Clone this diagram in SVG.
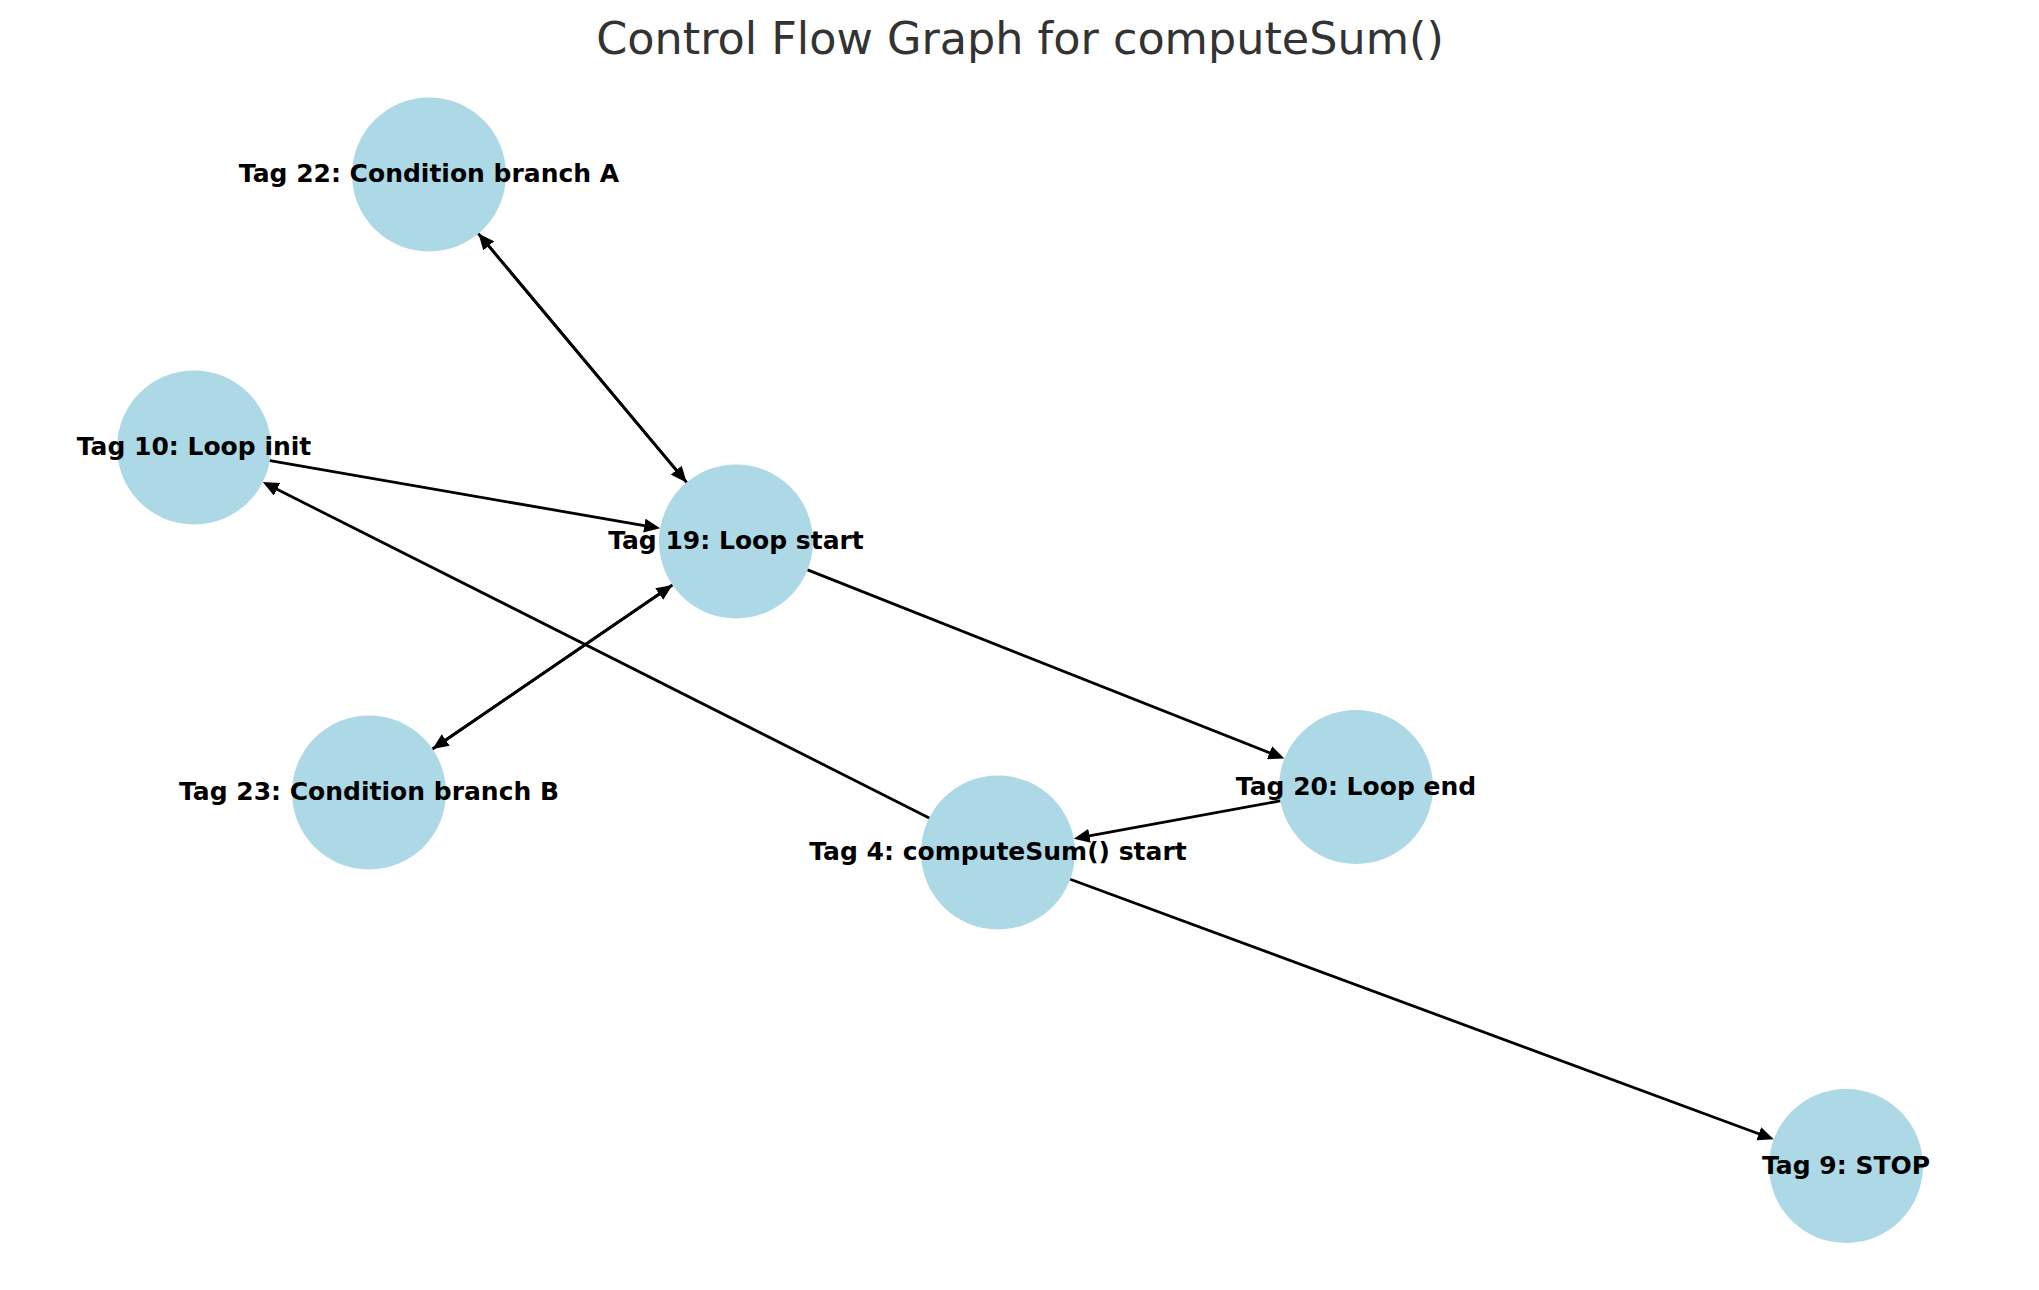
<svg xmlns="http://www.w3.org/2000/svg" width="2039" height="1290" viewBox="0 0 2039 1290">
<style>
.node circle{fill:#ADD8E6;}
.node text{font-family:"DejaVu Sans",sans-serif;font-weight:bold;font-size:25px;fill:#000;text-anchor:middle;}
.title{font-family:"DejaVu Sans",sans-serif;font-size:44.5px;fill:#333;text-anchor:middle;}
#edges line{stroke:#000;stroke-width:2.8;fill:none;marker-end:url(#arr);}
</style>
<defs>
<marker id="arr" viewBox="0 0 16 14" markerWidth="16" markerHeight="14" refX="10" refY="7" orient="auto" markerUnits="userSpaceOnUse">
<path d="M0,0 L16,7 L0,14 z" fill="#000"/>
</marker>
</defs>
<rect width="2039" height="1290" fill="#fff"/>
<text class="title" x="1020" y="54">Control Flow Graph for computeSum()</text>
<g id="nodes">
<g id="n22" class="node"><circle cx="429" cy="174.5" r="77"/></g>
<g id="n10" class="node"><circle cx="194" cy="447.5" r="77"/></g>
<g id="n19" class="node"><circle cx="736" cy="541.5" r="77"/></g>
<g id="n23" class="node"><circle cx="369" cy="792.5" r="77"/></g>
<g id="n20" class="node"><circle cx="1356" cy="787" r="77"/></g>
<g id="n4" class="node"><circle cx="998" cy="852.5" r="77"/></g>
<g id="n9" class="node"><circle cx="1846" cy="1166" r="77"/></g>
</g>
<g id="edges">
<line x1="478.4" y1="233.6" x2="682.75" y2="477.8"/>
<line x1="686.6" y1="482.4" x2="482.25" y2="238.2"/>
<line x1="269.9" y1="460.7" x2="654.2" y2="527.3"/>
<line x1="672.4" y1="585.0" x2="437.5" y2="745.6"/>
<line x1="432.6" y1="749.0" x2="667.5" y2="588.4"/>
<line x1="807.6" y1="569.9" x2="1278.8" y2="756.4"/>
<line x1="1280.2" y1="800.9" x2="1079.7" y2="837.6"/>
<line x1="929.2" y1="817.9" x2="268.1" y2="484.8"/>
<line x1="1070.2" y1="879.2" x2="1768.1" y2="1137.2"/>
</g>
<g id="labels">
<g class="node"><text x="429" y="182">Tag 22: Condition branch A</text></g>
<g class="node"><text x="194" y="455">Tag 10: Loop init</text></g>
<g class="node"><text x="736" y="549">Tag 19: Loop start</text></g>
<g class="node"><text x="369" y="800">Tag 23: Condition branch B</text></g>
<g class="node"><text x="1356" y="794.5">Tag 20: Loop end</text></g>
<g class="node"><text x="998" y="860">Tag 4: computeSum() start</text></g>
<g class="node"><text x="1846" y="1173.5">Tag 9: STOP</text></g>
</g>
</svg>
